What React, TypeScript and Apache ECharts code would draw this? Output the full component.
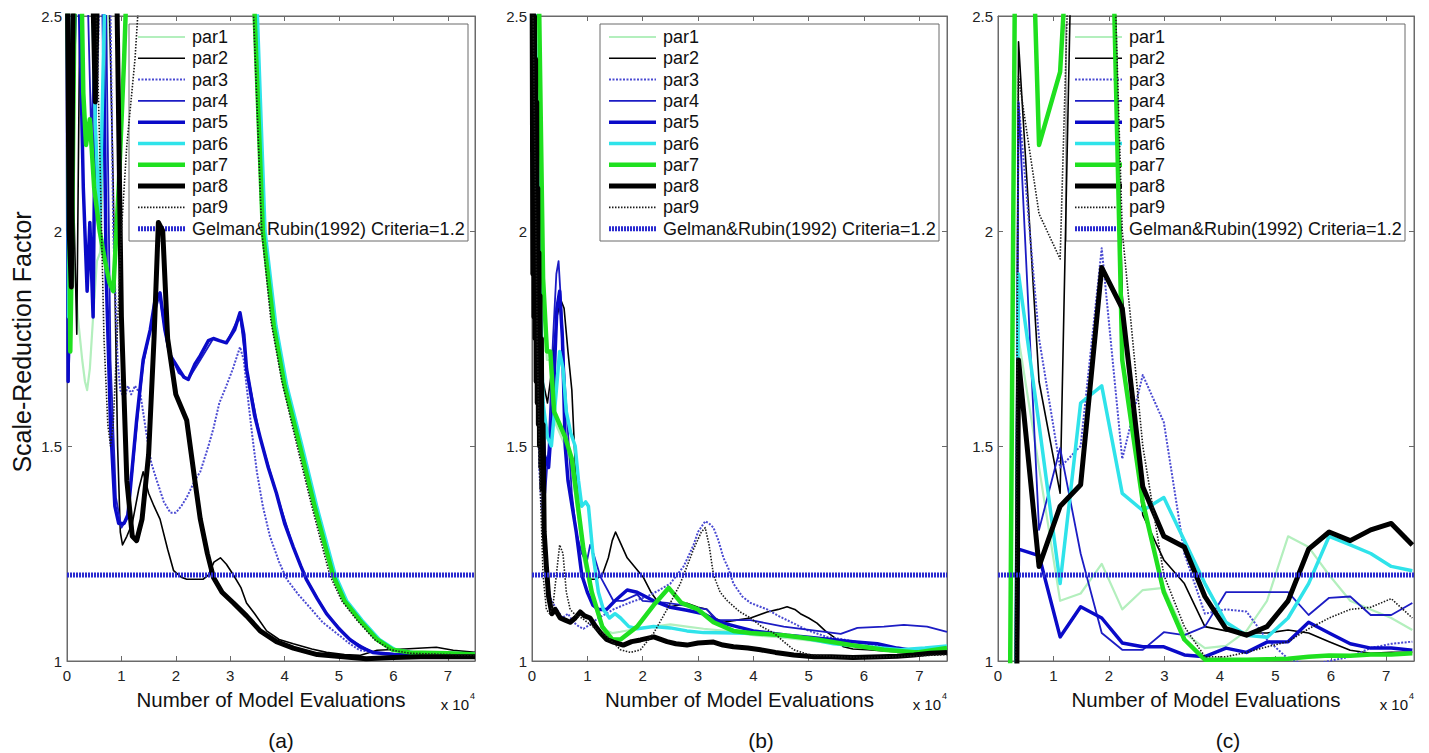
import React, { useEffect, useRef } from "react";
import * as echarts from "echarts";

type P = [number, number];

const SERIES_NAMES = ["par1", "par2", "par3", "par4", "par5", "par6", "par7", "par8", "par9"];
const GELMAN_NAME = "Gelman&Rubin(1992) Criteria=1.2";
const GELMAN_VALUE = 1.2;
const GELMAN_X = [0, 7.5];
const X_MIN = 0;
const X_MAX = 7.5;
const Y_MIN = 1;
const Y_MAX = 2.5;
const PANEL_LABELS = ["(a)", "(b)", "(c)"];
const X_TITLE = "Number of Model Evaluations";
const Y_TITLE = "Scale-Reduction Factor";
const X_EXP_BASE = "x 10";
const X_EXP_POW = "4";

// ---------- panel (a) ----------
const a_par1: P[] = [[0,2.2],[0.05,2.05],[0.12,1.95],[0.2,1.8],[0.28,1.7],[0.33,1.65],[0.37,1.63],[0.42,1.68],[0.48,1.8],[0.55,1.93],[0.61,1.95],[0.7,2.3],[0.8,2.7],[2,2.7],[3.4,2.7],[3.45,2.5],[3.6,2.0],[3.8,1.78],[4.0,1.64],[4.28,1.5],[4.55,1.36],[4.89,1.2],[5.1,1.14],[5.38,1.095],[5.7,1.05],[5.99,1.026],[6.3,1.02],[7.0,1.018],[7.5,1.015]];
const a_par2: P[] = [[0,2.7],[0.1,2.2],[0.18,1.76],[0.25,2.7],[0.75,2.7],[0.85,2.1],[0.93,1.5],[0.98,1.3],[1.02,1.27],[1.1,1.29],[1.2,1.32],[1.32,1.4],[1.4,1.44],[1.5,1.39],[1.6,1.36],[1.71,1.33],[1.85,1.26],[1.96,1.21],[2.1,1.195],[2.2,1.19],[2.35,1.19],[2.5,1.19],[2.6,1.2],[2.7,1.23],[2.82,1.24],[2.93,1.225],[3.06,1.2],[3.2,1.17],[3.3,1.135],[3.45,1.11],[3.67,1.07],[3.9,1.05],[4.16,1.04],[4.5,1.028],[4.77,1.02],[5.1,1.015],[5.38,1.013],[5.7,1.025],[6.2,1.028],[6.79,1.032],[7.1,1.025],[7.5,1.02]];
const a_par3: P[] = [[0,2.7],[0.5,2.7],[0.55,2.3],[0.62,2.7],[0.78,2.7],[0.85,2.0],[0.93,1.7],[0.98,1.63],[1.05,1.61],[1.12,1.64],[1.18,1.62],[1.25,1.64],[1.3,1.63],[1.35,1.62],[1.47,1.52],[1.55,1.46],[1.65,1.42],[1.78,1.37],[1.9,1.345],[2.0,1.345],[2.1,1.36],[2.2,1.38],[2.35,1.42],[2.45,1.44],[2.6,1.5],[2.69,1.54],[2.8,1.6],[2.93,1.64],[3.05,1.68],[3.18,1.73],[3.25,1.7],[3.3,1.64],[3.4,1.53],[3.49,1.44],[3.6,1.36],[3.73,1.29],[3.9,1.23],[4.04,1.19],[4.25,1.155],[4.46,1.125],[4.7,1.09],[4.95,1.065],[5.2,1.04],[5.38,1.025],[5.8,1.017],[6.5,1.015],[7.5,1.015]];
const a_par4: P[] = [[0,2.0],[0.03,1.65],[0.08,1.9],[0.15,2.7],[0.35,2.7],[0.45,2.2],[0.55,2.7],[0.7,2.7],[0.8,1.7],[0.9,1.38],[1.0,1.31],[1.1,1.33],[1.2,1.44],[1.3,1.57],[1.4,1.69],[1.53,1.77],[1.7,1.85],[1.85,1.73],[2.05,1.67],[2.23,1.655],[2.45,1.7],[2.69,1.75],[2.93,1.74],[3.18,1.805],[3.3,1.68],[3.55,1.52],[3.85,1.39],[4.16,1.265],[4.4,1.19],[4.77,1.11],[5.2,1.05],[5.62,1.02],[6.5,1.013],[7.5,1.012]];
const a_par5: P[] = [[0,2.7],[0.02,1.65],[0.05,2.0],[0.1,2.3],[0.2,2.7],[0.3,2.1],[0.37,1.86],[0.42,2.02],[0.48,1.8],[0.55,2.7],[0.65,2.7],[0.72,1.9],[0.8,1.55],[0.88,1.36],[0.95,1.32],[1.05,1.32],[1.12,1.34],[1.2,1.45],[1.28,1.56],[1.4,1.7],[1.53,1.77],[1.62,1.84],[1.71,1.856],[1.8,1.77],[1.9,1.71],[2.05,1.68],[2.15,1.66],[2.23,1.655],[2.35,1.69],[2.45,1.71],[2.6,1.745],[2.69,1.75],[2.8,1.745],[2.93,1.74],[3.08,1.77],[3.18,1.81],[3.25,1.76],[3.3,1.68],[3.45,1.57],[3.55,1.52],[3.7,1.45],[3.85,1.39],[4.0,1.32],[4.16,1.265],[4.3,1.22],[4.4,1.19],[4.6,1.145],[4.77,1.11],[5.0,1.075],[5.2,1.05],[5.4,1.032],[5.62,1.02],[6.0,1.015],[6.5,1.013],[7.0,1.012],[7.5,1.012]];
const a_par6: P[] = [[0,2.7],[0.03,1.8],[0.06,2.1],[0.12,2.7],[0.45,2.7],[0.52,2.25],[0.6,2.01],[0.66,2.35],[0.72,2.7],[3.4,2.7],[3.5,2.5],[3.64,2.0],[3.84,1.78],[4.04,1.64],[4.32,1.5],[4.59,1.36],[4.93,1.2],[5.14,1.14],[5.42,1.095],[5.74,1.05],[6.03,1.026],[6.35,1.02],[7.0,1.018],[7.5,1.016]];
const a_par7: P[] = [[0,2.7],[0.03,2.27],[0.06,1.72],[0.1,2.05],[0.15,2.7],[0.25,2.7],[0.3,2.32],[0.35,2.2],[0.42,2.26],[0.5,2.1],[0.6,2.0],[0.7,1.93],[0.78,1.88],[0.85,1.86],[0.95,2.1],[1.05,2.4],[1.13,2.7],[3.4,2.7],[3.45,2.5],[3.6,2.0],[3.8,1.78],[4.0,1.64],[4.28,1.5],[4.55,1.36],[4.89,1.2],[5.1,1.14],[5.38,1.095],[5.7,1.05],[5.99,1.026],[6.3,1.02],[7.0,1.018],[7.5,1.015]];
const a_par8: P[] = [[0,2.7],[0.04,2.0],[0.08,1.87],[0.12,2.7],[0.45,2.7],[0.52,2.3],[0.58,2.7],[0.9,2.7],[1.0,1.8],[1.1,1.42],[1.2,1.29],[1.28,1.28],[1.38,1.33],[1.5,1.48],[1.6,1.75],[1.68,2.02],[1.76,2.0],[1.85,1.75],[2.0,1.62],[2.2,1.56],[2.35,1.42],[2.45,1.33],[2.58,1.25],[2.69,1.195],[2.85,1.16],[3.06,1.135],[3.3,1.105],[3.55,1.07],[3.85,1.045],[4.16,1.03],[4.6,1.015],[5.07,1.01],[5.5,1.005],[6.0,1.008],[6.5,1.01],[7.0,1.01],[7.5,1.01]];
const a_par9: P[] = [[0,2.7],[0.5,2.7],[0.6,2.2],[0.68,1.75],[0.75,1.55],[0.8,1.5],[0.85,1.55],[0.92,1.75],[1.0,2.0],[1.1,2.2],[1.25,2.4],[1.4,2.7],[3.3,2.7],[3.43,2.5],[3.58,2.0],[3.75,1.79],[3.95,1.65],[4.23,1.5],[4.5,1.36],[4.83,1.2],[5.05,1.14],[5.33,1.095],[5.65,1.05],[5.95,1.026],[6.3,1.018],[7.0,1.015],[7.5,1.013]];

// ---------- panel (b) ----------
const b_par1: P[] = [[0,2.7],[0.12,2.5],[0.2,1.86],[0.27,1.7],[0.33,1.7],[0.4,1.56],[0.5,1.53],[0.6,1.5],[0.72,1.45],[0.84,1.33],[0.93,1.24],[1.08,1.15],[1.27,1.075],[1.45,1.065],[1.6,1.068],[1.9,1.075],[2.2,1.08],[2.5,1.085],[2.8,1.08],[3.1,1.075],[3.5,1.07],[4.0,1.06],[4.5,1.055],[5.0,1.048],[5.5,1.04],[6.0,1.032],[6.5,1.026],[7.0,1.024],[7.5,1.03]];
const b_par2: P[] = [[0,2.7],[0.06,2.3],[0.12,1.9],[0.2,1.65],[0.28,1.6],[0.36,1.68],[0.45,1.8],[0.52,1.84],[0.58,1.82],[0.65,1.72],[0.72,1.63],[0.78,1.46],[0.84,1.36],[0.9,1.29],[1.0,1.22],[1.05,1.19],[1.15,1.19],[1.27,1.2],[1.38,1.24],[1.45,1.28],[1.51,1.3],[1.58,1.28],[1.72,1.24],[1.85,1.22],[2.01,1.195],[2.15,1.16],[2.26,1.14],[2.5,1.126],[2.8,1.134],[3.0,1.125],[3.16,1.12],[3.3,1.1],[3.46,1.09],[3.7,1.095],[3.95,1.1],[4.25,1.114],[4.45,1.12],[4.61,1.126],[4.75,1.12],[4.85,1.11],[5.0,1.1],[5.15,1.088],[5.3,1.07],[5.45,1.056],[5.63,1.033],[5.8,1.028],[6.06,1.026],[6.5,1.022],[7.0,1.02],[7.5,1.02]];
const b_par3: P[] = [[0,2.7],[0.05,2.2],[0.07,1.95],[0.1,1.7],[0.13,1.45],[0.16,1.38],[0.2,1.32],[0.25,1.25],[0.3,1.17],[0.35,1.14],[0.45,1.12],[0.55,1.1],[0.65,1.11],[0.75,1.09],[0.85,1.08],[0.93,1.075],[1.05,1.085],[1.2,1.1],[1.47,1.12],[1.75,1.135],[2.08,1.15],[2.3,1.165],[2.5,1.18],[2.62,1.2],[2.74,1.22],[2.85,1.25],[2.92,1.27],[3.0,1.3],[3.13,1.325],[3.2,1.32],[3.28,1.31],[3.37,1.28],[3.46,1.24],[3.55,1.215],[3.64,1.18],[3.8,1.15],[3.95,1.135],[4.25,1.12],[4.45,1.105],[4.61,1.095],[4.8,1.083],[4.97,1.072],[5.15,1.064],[5.33,1.056],[5.63,1.05],[6.06,1.04],[6.66,1.026],[7.0,1.022],[7.5,1.02]];
const b_par4: P[] = [[0,2.7],[0.06,2.3],[0.1,2.0],[0.15,1.8],[0.24,1.39],[0.3,1.5],[0.38,1.75],[0.44,1.9],[0.48,1.93],[0.53,1.82],[0.6,1.635],[0.72,1.39],[0.8,1.3],[0.9,1.25],[0.99,1.23],[1.05,1.27],[1.11,1.25],[1.24,1.195],[1.47,1.14],[1.65,1.14],[1.9,1.155],[2.0,1.14],[2.44,1.135],[2.8,1.128],[3.16,1.12],[3.35,1.095],[3.95,1.095],[4.55,1.08],[5.15,1.07],[5.58,1.063],[5.88,1.077],[6.36,1.08],[6.72,1.084],[7.14,1.08],[7.5,1.068]];
const b_par5: P[] = [[0,2.7],[0.08,2.2],[0.15,1.72],[0.22,1.48],[0.3,1.45],[0.38,1.6],[0.45,1.82],[0.5,1.86],[0.55,1.75],[0.6,1.5],[0.65,1.42],[0.7,1.38],[0.8,1.3],[0.9,1.2],[1.0,1.16],[1.1,1.13],[1.2,1.12],[1.35,1.12],[1.5,1.14],[1.72,1.165],[1.9,1.16],[2.2,1.14],[2.5,1.125],[2.8,1.118],[3.1,1.11],[3.4,1.09],[3.7,1.08],[4.0,1.07],[4.3,1.065],[4.6,1.06],[5.0,1.055],[5.4,1.05],[5.8,1.045],[6.24,1.04],[6.6,1.03],[7.0,1.022],[7.5,1.02]];
const b_par6: P[] = [[0,2.7],[0.06,2.5],[0.12,2.0],[0.2,1.6],[0.28,1.52],[0.35,1.5],[0.42,1.6],[0.5,1.72],[0.56,1.68],[0.62,1.58],[0.7,1.53],[0.78,1.5],[0.84,1.42],[0.9,1.36],[0.97,1.37],[1.02,1.36],[1.1,1.25],[1.2,1.16],[1.29,1.12],[1.4,1.1],[1.5,1.11],[1.6,1.1],[1.75,1.08],[1.9,1.075],[2.2,1.08],[2.5,1.077],[2.8,1.07],[3.1,1.066],[3.64,1.065],[4.25,1.063],[4.85,1.055],[5.45,1.04],[6.06,1.033],[6.66,1.026],[7.1,1.03],[7.5,1.035]];
const b_par7: P[] = [[0,2.7],[0.12,2.6],[0.2,1.89],[0.27,1.72],[0.33,1.72],[0.4,1.58],[0.5,1.55],[0.6,1.52],[0.72,1.47],[0.84,1.35],[0.93,1.26],[1.08,1.16],[1.27,1.08],[1.45,1.05],[1.6,1.05],[1.9,1.08],[2.2,1.13],[2.47,1.17],[2.7,1.135],[3.0,1.12],[3.28,1.09],[3.64,1.07],[3.95,1.065],[4.55,1.06],[5.15,1.05],[5.76,1.037],[6.36,1.026],[6.96,1.02],[7.5,1.03]];
const b_par8: P[] = [[0,2.7],[0.015,1.9],[0.025,2.6],[0.035,1.8],[0.045,2.5],[0.055,1.75],[0.065,2.4],[0.075,1.65],[0.085,2.3],[0.095,1.6],[0.105,2.1],[0.115,1.55],[0.125,1.95],[0.135,1.5],[0.145,1.85],[0.16,1.45],[0.17,1.75],[0.18,1.4],[0.2,1.55],[0.22,1.3],[0.26,1.22],[0.3,1.15],[0.36,1.11],[0.42,1.12],[0.51,1.1],[0.6,1.095],[0.69,1.09],[0.78,1.1],[0.87,1.114],[0.95,1.105],[1.05,1.1],[1.15,1.08],[1.24,1.065],[1.35,1.05],[1.47,1.044],[1.65,1.037],[1.8,1.045],[1.96,1.049],[2.2,1.056],[2.44,1.045],[2.6,1.04],[2.8,1.037],[3.0,1.042],[3.28,1.044],[3.45,1.037],[3.64,1.033],[3.9,1.03],[4.13,1.026],[4.4,1.02],[4.73,1.014],[5.1,1.01],[5.4,1.01],[5.8,1.008],[6.3,1.01],[6.6,1.011],[6.9,1.014],[7.2,1.018],[7.5,1.02]];
const b_par9: P[] = [[0,2.7],[0.05,2.2],[0.1,1.7],[0.15,1.4],[0.2,1.2],[0.26,1.12],[0.32,1.11],[0.38,1.13],[0.44,1.2],[0.5,1.27],[0.56,1.25],[0.62,1.16],[0.69,1.12],[0.8,1.105],[0.9,1.1],[1.1,1.08],[1.36,1.056],[1.6,1.026],[1.78,1.02],[1.96,1.026],[2.2,1.065],[2.44,1.12],[2.68,1.18],[2.92,1.26],[3.06,1.3],[3.13,1.31],[3.2,1.27],[3.28,1.2],[3.4,1.16],[3.53,1.14],[3.75,1.115],[3.95,1.1],[4.15,1.08],[4.37,1.065],[4.55,1.045],[4.73,1.026],[5.0,1.015],[5.5,1.01],[6.0,1.008],[6.5,1.01],[7.0,1.012],[7.5,1.015]];

// ---------- panel (c) ----------
const c_par1: P[] = [[0.3,0.6],[0.37,1.75],[0.74,1.45],[1.12,1.14],[1.49,1.157],[1.87,1.226],[2.24,1.12],[2.61,1.165],[2.99,1.17],[3.36,1.065],[3.73,1.03],[4.11,1.035],[4.48,1.07],[4.85,1.14],[5.23,1.29],[5.6,1.265],[5.97,1.2],[6.35,1.14],[6.72,1.12],[7.09,1.1],[7.47,1.072]];
const c_par2: P[] = [[0.3,0.6],[0.37,2.44],[0.74,1.65],[1.12,1.39],[1.49,3.7],[1.87,3.8],[2.24,1.85],[2.61,1.34],[2.99,1.235],[3.36,1.18],[3.73,1.08],[4.11,1.07],[4.48,1.065],[4.85,1.065],[5.23,1.072],[5.6,1.065],[5.97,1.045],[6.35,1.025],[6.72,1.018],[7.09,1.02],[7.47,1.02]];
const c_par3: P[] = [[0.3,0.6],[0.37,2.3],[0.74,1.75],[1.12,1.45],[1.49,1.5],[1.87,1.96],[2.24,1.47],[2.61,1.665],[2.99,1.555],[3.36,1.25],[3.73,1.11],[4.11,1.12],[4.48,1.115],[4.85,1.05],[5.23,1.005],[5.6,0.99],[5.97,1.0],[6.35,1.01],[6.72,1.03],[7.09,1.04],[7.47,1.045]];
const c_par4: P[] = [[0.3,0.6],[0.37,2.3],[0.74,1.305],[1.12,1.495],[1.49,1.25],[1.87,1.065],[2.24,1.026],[2.61,1.026],[2.99,1.067],[3.36,1.06],[3.73,1.08],[4.11,1.16],[4.48,1.16],[4.85,1.16],[5.23,1.16],[5.6,1.107],[5.97,1.147],[6.35,1.15],[6.72,1.107],[7.09,1.107],[7.47,1.135]];
const c_par5: P[] = [[0.3,0.6],[0.37,1.26],[0.74,1.245],[1.12,1.056],[1.49,1.126],[1.87,1.1],[2.24,1.042],[2.61,1.033],[2.99,1.033],[3.36,1.014],[3.73,1.01],[4.11,1.03],[4.48,1.02],[4.85,1.044],[5.23,1.045],[5.6,1.09],[5.97,1.065],[6.35,1.04],[6.72,1.03],[7.09,1.03],[7.47,1.025]];
const c_par6: P[] = [[0.3,0.6],[0.37,1.9],[0.74,1.55],[1.12,1.18],[1.49,1.6],[1.87,1.64],[2.24,1.39],[2.61,1.35],[2.99,1.38],[3.36,1.28],[3.73,1.18],[4.11,1.09],[4.48,1.06],[4.85,1.055],[5.23,1.1],[5.6,1.18],[5.97,1.29],[6.35,1.27],[6.72,1.25],[7.09,1.22],[7.47,1.21]];
const c_par7: P[] = [[0.19,0.44],[0.37,3.8],[0.74,2.2],[1.12,2.37],[1.49,3.2],[1.87,3.8],[2.24,1.7],[2.61,1.37],[2.99,1.16],[3.36,1.05],[3.73,1.003],[4.11,1.003],[4.48,1.003],[4.85,1.004],[5.23,1.005],[5.6,1.01],[5.97,1.013],[6.35,1.012],[6.72,1.015],[7.09,1.015],[7.47,1.018]];
const c_par8: P[] = [[0.3,0.0],[0.37,1.7],[0.74,1.22],[1.12,1.36],[1.49,1.41],[1.87,1.915],[2.24,1.82],[2.61,1.405],[2.99,1.29],[3.36,1.265],[3.73,1.15],[4.11,1.075],[4.48,1.06],[4.85,1.08],[5.23,1.14],[5.6,1.26],[5.97,1.3],[6.35,1.28],[6.72,1.305],[7.09,1.32],[7.47,1.27]];
const c_par9: P[] = [[0.3,0.6],[0.37,2.36],[0.74,2.04],[1.12,1.935],[1.49,3.6],[1.87,3.6],[2.24,2.0],[2.61,1.5],[2.99,1.2],[3.36,1.08],[3.73,1.01],[4.11,1.01],[4.48,1.02],[4.85,1.033],[5.23,1.045],[5.6,1.075],[5.97,1.1],[6.35,1.12],[6.72,1.125],[7.09,1.145],[7.47,1.1]];

const PANEL_DATA: P[][][] = [
  [a_par1, a_par2, a_par3, a_par4, a_par5, a_par6, a_par7, a_par8, a_par9],
  [b_par1, b_par2, b_par3, b_par4, b_par5, b_par6, b_par7, b_par8, b_par9],
  [c_par1, c_par2, c_par3, c_par4, c_par5, c_par6, c_par7, c_par8, c_par9],
];

// ---------- styles & layout ----------
const FONT = '"Liberation Sans", Arial, Helvetica, sans-serif';
const STYLES: Record<string, { color: string; width: number; dash: number[] | null }> = {
  par1: { color: "#b3efbd", width: 2.2, dash: null },
  par2: { color: "#000000", width: 1.6, dash: null },
  par3: { color: "#4a4ad2", width: 2, dash: [2, 1.5] },
  par4: { color: "#1c1cc4", width: 1.8, dash: null },
  par5: { color: "#0a0ac8", width: 3.5, dash: null },
  par6: { color: "#2fe3ea", width: 3.5, dash: null },
  par7: { color: "#1fe01f", width: 4.5, dash: null },
  par8: { color: "#000000", width: 5, dash: null },
  par9: { color: "#1a1a1a", width: 1.6, dash: [1.5, 1.5] },
  gelman: { color: "#2a2ad0", width: 5, dash: [2, 1] },
};
const PANELS = [
  { left: 67, width: 408, legendX: 129, labelX: 281 },
  { left: 532, width: 415, legendX: 600, labelX: 761 },
  { left: 998, width: 416, legendX: 1066, labelX: 1228 },
];
const GRID_TOP = 16;
const GRID_H = 645;
const AXIS_COLOR = "#6a6a6a";

function buildOption() {
  const grid: any[] = [];
  const xAxis: any[] = [];
  const yAxis: any[] = [];
  const series: any[] = [];
  const graphic: any[] = [];

  PANELS.forEach((pl, p) => {
    grid.push({
      left: pl.left, top: GRID_TOP, width: pl.width, height: GRID_H,
      show: true, borderColor: AXIS_COLOR, borderWidth: 1, backgroundColor: "transparent",
    });
    const xBase = {
      gridIndex: p, type: "value", min: X_MIN, max: X_MAX, interval: 1,
      axisLine: { show: true, onZero: false, lineStyle: { color: AXIS_COLOR } },
      axisTick: { show: true, inside: true, length: 5, lineStyle: { color: AXIS_COLOR } },
      splitLine: { show: false },
    };
    xAxis.push({
      ...xBase, position: "bottom",
      axisLabel: {
        color: "#222", fontSize: 15, fontFamily: FONT, margin: 7,
        formatter: (v: number) => (Number.isInteger(v) ? String(v) : ""),
      },
    });
    xAxis.push({ ...xBase, position: "top", axisLabel: { show: false } });
    const yBase = {
      gridIndex: p, type: "value", min: Y_MIN, max: Y_MAX, interval: 0.5,
      axisLine: { show: true, onZero: false, lineStyle: { color: AXIS_COLOR } },
      axisTick: { show: true, inside: true, length: 5, lineStyle: { color: AXIS_COLOR } },
      splitLine: { show: false },
    };
    yAxis.push({
      ...yBase, position: "left",
      axisLabel: { color: "#222", fontSize: 15, fontFamily: FONT, margin: 5, formatter: (v: number) => String(v) },
    });
    yAxis.push({ ...yBase, position: "right", axisLabel: { show: false } });

    SERIES_NAMES.forEach((name, i) => {
      const s = STYLES[name];
      series.push({
        type: "line", name, xAxisIndex: p * 2, yAxisIndex: p * 2,
        data: PANEL_DATA[p][i], showSymbol: false, symbol: "none", clip: true,
        lineStyle: { color: s.color, width: s.width, type: s.dash ? s.dash : "solid", join: "round" },
        itemStyle: { color: s.color }, emphasis: { disabled: true }, silent: true, z: 2 + i * 0.01,
      });
    });
    const g = STYLES.gelman;
    series.push({
      type: "line", name: GELMAN_NAME, xAxisIndex: p * 2, yAxisIndex: p * 2,
      data: GELMAN_X.map((x) => [x, GELMAN_VALUE]), showSymbol: false, symbol: "none",
      lineStyle: { color: g.color, width: g.width, type: g.dash },
      itemStyle: { color: g.color }, emphasis: { disabled: true }, silent: true, z: 3,
    });

    // legend box
    const lx = pl.legendX;
    const children: any[] = [
      { type: "rect", shape: { x: lx, y: 24, width: 339, height: 217 }, style: { fill: "#ffffff", stroke: AXIS_COLOR, lineWidth: 1 } },
    ];
    const names = [...SERIES_NAMES, GELMAN_NAME];
    names.forEach((n, i) => {
      const s = i < 9 ? STYLES[n] : STYLES.gelman;
      const y = 37 + i * 21.3;
      children.push({
        type: "line", shape: { x1: lx + 9, y1: y, x2: lx + 56, y2: y },
        style: { stroke: s.color, lineWidth: s.width, lineDash: s.dash ? s.dash : null },
      });
      children.push({
        type: "text", x: lx + 63, y,
        style: { text: n, fontSize: 18, fontFamily: FONT, fill: "#111", align: "left", verticalAlign: "middle" },
      });
    });
    graphic.push({ type: "group", z: 100, children });

    const right = pl.left + pl.width;
    graphic.push({
      type: "text", x: pl.left + pl.width / 2, y: 699, z: 100,
      style: { text: X_TITLE, fontSize: 20.5, fontFamily: FONT, fill: "#111", align: "center", verticalAlign: "middle" },
    });
    graphic.push({
      type: "text", x: right - 6, y: 704, z: 100,
      style: { text: X_EXP_BASE, fontSize: 15, fontFamily: FONT, fill: "#111", align: "right", verticalAlign: "middle" },
    });
    graphic.push({
      type: "text", x: right - 5, y: 696, z: 100,
      style: { text: X_EXP_POW, fontSize: 9, fontFamily: FONT, fill: "#111", align: "left", verticalAlign: "middle" },
    });
    graphic.push({
      type: "text", x: pl.labelX, y: 740, z: 100,
      style: { text: PANEL_LABELS[p], fontSize: 21, fontFamily: FONT, fill: "#111", align: "center", verticalAlign: "middle" },
    });
  });

  graphic.push({
    type: "text", x: 22, y: 342, rotation: Math.PI / 2, z: 100,
    style: { text: Y_TITLE, fontSize: 25, fontFamily: FONT, fill: "#111", align: "center", verticalAlign: "middle" },
  });

  return { animation: false, backgroundColor: "#ffffff", grid, xAxis, yAxis, series, graphic };
}

export default function App() {
  const ref = useRef<HTMLDivElement>(null);
  useEffect(() => {
    if (!ref.current) return;
    const chart = echarts.init(ref.current, undefined, { renderer: "svg" });
    chart.setOption(buildOption() as any);
    return () => chart.dispose();
  }, []);
  return (
    <div
      ref={ref}
      style={{ position: "absolute", left: 0, top: 0, width: 1429, height: 753, background: "#fff" }}
    />
  );
}
